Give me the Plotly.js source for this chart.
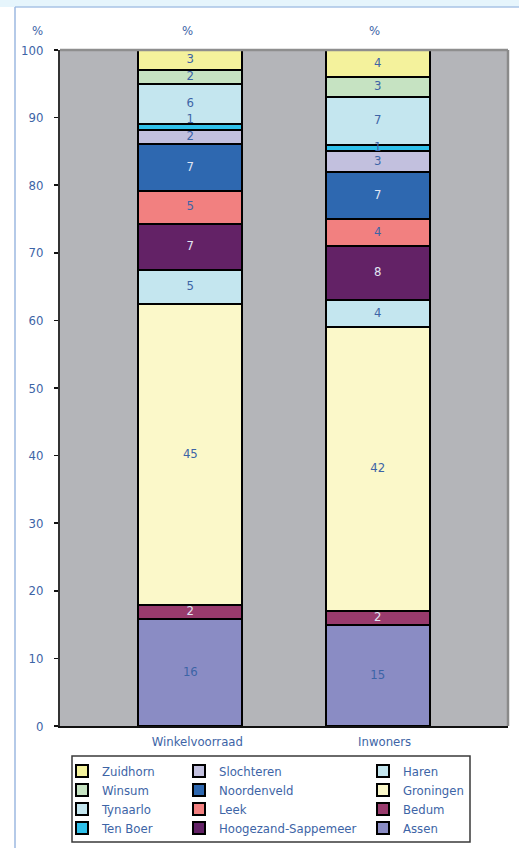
<!DOCTYPE html>
<html>
<head>
<meta charset="utf-8">
<script src="https://cdn.plot.ly/plotly-3.0.1.min.js"></script>
<style>
  html, body { margin: 0; padding: 0; background: #ffffff; }
  #chart { width: 519px; height: 848px; }
</style>
</head>
<body>
<div id="chart"></div>
<script>
// Aandeel per gemeente in winkelvoorraad en inwoners (%)
const categories = ['Winkelvoorraad', 'Inwoners'];

// Gemeenten in stapelvolgorde, van onder naar boven
const gemeenten = [
  'Assen', 'Bedum', 'Groningen', 'Haren', 'Hoogezand-Sappemeer', 'Leek',
  'Noordenveld', 'Slochteren', 'Ten Boer', 'Tynaarlo', 'Winsum', 'Zuidhorn'
];

const winkelvoorraad = [15.9, 2.0, 44.6, 4.9, 6.9, 4.9, 6.9, 2.1, 0.9, 5.9, 2.0, 3.0];
const inwoners       = [15.0, 2.0, 42.0, 4.0, 8.0, 4.0, 7.0, 3.0, 1.0, 7.0, 3.0, 4.0];

const yTicks = [0, 10, 20, 30, 40, 50, 60, 70, 80, 90, 100];

// Legenda: drie kolommen van vier regels
const legendColumns = [
  ['Zuidhorn', 'Winsum', 'Tynaarlo', 'Ten Boer'],
  ['Slochteren', 'Noordenveld', 'Leek', 'Hoogezand-Sappemeer'],
  ['Haren', 'Groningen', 'Bedum', 'Assen']
];

const fillColors = {
  'Assen': '#8a8cc4',
  'Bedum': '#993b6d',
  'Groningen': '#fbf8c9',
  'Haren': '#c4e6ef',
  'Hoogezand-Sappemeer': '#632266',
  'Leek': '#f28080',
  'Noordenveld': '#2e68b0',
  'Slochteren': '#c2c0de',
  'Ten Boer': '#2fc0ea',
  'Tynaarlo': '#c4e6ef',
  'Winsum': '#c6e3c2',
  'Zuidhorn': '#f4f29c'
};
const darkFills = ['Bedum', 'Hoogezand-Sappemeer', 'Noordenveld'];

const FONT = '"DejaVu Sans Condensed", "Liberation Sans Narrow", sans-serif';
const FS = 13;
const BLUE_TEXT = '#3d64a6';
const LIGHT_TEXT = '#e2e6f3';

// Plotgebied in pixels
const W = 519, H = 848;
const M = { l: 60, r: 11, t: 50, b: 122, autoexpand: false };
const PW = W - M.l - M.r, PH = H - M.t - M.b;
const px2x = p => (p - M.l) / PW;
const py2y = p => (H - M.b - p) / PH;

const xRange = [-0.696, 1.696];

// Legenda-posities per kolom (linkerkant van de legenda) en per regel (midden)
const colLeftX = [62, 179, 363];
const rowCenterY = [771, 790, 809, 828];

const legendSlot = {};
legendColumns.forEach((col, ci) => col.forEach((name, ri) => { legendSlot[name] = [ci, ri]; }));

const series = [winkelvoorraad, inwoners];

const barTraces = gemeenten.map((name, i) => {
  const idx = i === 0 ? '' : String(i + 1);
  return {
    type: 'bar',
    name: name,
    x: categories,
    y: series.map(s => s[i]),
    width: 0.555,
    marker: { color: fillColors[name], line: { color: '#000000', width: 2 } },
    hoverinfo: 'name+y',
    legend: 'legend' + idx,
    showlegend: true
  };
});

// Waardelabels midden in elk segment, als laag boven alle staven
const labelX = [], labelY = [], labelText = [], labelColor = [], labelPos = [];
categories.forEach((cat, c) => {
  let base = 0;
  gemeenten.forEach((name, i) => {
    const v = series[c][i];
    labelX.push(cat);
    labelY.push(base + v / 2);
    labelText.push(v.toFixed(0));
    labelColor.push(darkFills.includes(name) ? LIGHT_TEXT : BLUE_TEXT);
    labelPos.push(v < 1 ? 'top center' : 'middle center');
    base += v;
  });
});

const labelTrace = {
  type: 'scatter',
  mode: 'text',
  x: labelX,
  y: labelY,
  text: labelText,
  textposition: labelPos,
  textfont: { family: FONT, size: FS, color: labelColor },
  cliponaxis: false,
  hoverinfo: 'skip',
  showlegend: false
};

const pctNote = px => ({
  xref: 'paper', yref: 'paper', x: px2x(px), y: py2y(30),
  xanchor: 'center', yanchor: 'middle',
  text: '%', showarrow: false,
  font: { family: FONT, size: FS, color: BLUE_TEXT }
});

const layout = {
  width: W, height: H,
  margin: M,
  paper_bgcolor: '#ffffff',
  plot_bgcolor: '#b4b5b9',
  barmode: 'stack',
  font: { family: FONT, size: FS, color: BLUE_TEXT },
  xaxis: {
    type: 'category',
    range: xRange,
    showgrid: false, zeroline: false,
    showline: true, linecolor: '#111111', linewidth: 2,
    ticks: '',
    ticklabelshift: 7,
    ticklabelstandoff: 2,
    tickfont: { family: FONT, size: FS, color: BLUE_TEXT },
    fixedrange: true
  },
  xaxis2: {
    type: 'linear',
    overlaying: 'x',
    anchor: 'y',
    range: xRange,
    tickvals: [-0.696, 0.701, 1.696],
    ticks: 'outside', ticklen: 5, tickwidth: 1.5, tickcolor: '#333333',
    showticklabels: false, showgrid: false, zeroline: false, showline: false
  },
  yaxis: {
    range: [0, 100],
    tickvals: yTicks,
    ticks: 'outside', ticklen: 4, tickwidth: 1.5, tickcolor: '#111111',
    ticklabelstandoff: 8,
    showgrid: false, zeroline: false,
    showline: true, linecolor: '#333333', linewidth: 2,
    tickfont: { family: FONT, size: FS, color: BLUE_TEXT },
    fixedrange: true
  },
  annotations: [pctNote(37), pctNote(187), pctNote(374)],
  shapes: [
    // lichtblauwe kopbalk en kantlijn van het kader
    { type: 'rect', xref: 'paper', yref: 'paper', x0: px2x(0), x1: px2x(W), y0: py2y(7), y1: py2y(0),
      fillcolor: '#e6f5fc', line: { width: 0 }, layer: 'below' },
    { type: 'line', xref: 'paper', yref: 'paper', x0: px2x(15), x1: px2x(W), y0: py2y(7), y1: py2y(7),
      line: { color: '#a9c3e6', width: 1.5 } },
    { type: 'line', xref: 'paper', yref: 'paper', x0: px2x(15), x1: px2x(15), y0: py2y(7), y1: py2y(H),
      line: { color: '#9cb8e0', width: 1.5 } },
    // rand van het plotgebied boven en rechts
    { type: 'line', xref: 'paper', yref: 'paper', x0: 0, x1: 1, y0: 1, y1: 1,
      line: { color: '#8e8e8e', width: 2.5 } },
    { type: 'line', xref: 'paper', yref: 'paper', x0: 1, x1: 1, y0: 0, y1: 1,
      line: { color: '#8a8a8a', width: 2.5 } },
    // kader om de legenda
    { type: 'rect', xref: 'paper', yref: 'paper', x0: px2x(72), x1: px2x(470), y0: py2y(842), y1: py2y(756),
      line: { color: '#3a3a3a', width: 1.5 }, fillcolor: 'rgba(0,0,0,0)' }
  ]
};

// Eén legenda per item, zodat kolommen en regelafstand vrij te plaatsen zijn
gemeenten.forEach((name, i) => {
  const key = i === 0 ? 'legend' : 'legend' + (i + 1);
  const [ci, ri] = legendSlot[name];
  layout[key] = {
    xref: 'container', yref: 'container',
    x: colLeftX[ci] / W, y: (H - rowCenterY[ri]) / H,
    xanchor: 'left', yanchor: 'middle',
    bgcolor: 'rgba(0,0,0,0)', borderwidth: 0,
    font: { family: FONT, size: FS, color: BLUE_TEXT },
    itemclick: false, itemdoubleclick: false
  };
});

Plotly.newPlot('chart', barTraces.concat([labelTrace]), layout, { displayModeBar: false, staticPlot: true });
</script>
</body>
</html>
